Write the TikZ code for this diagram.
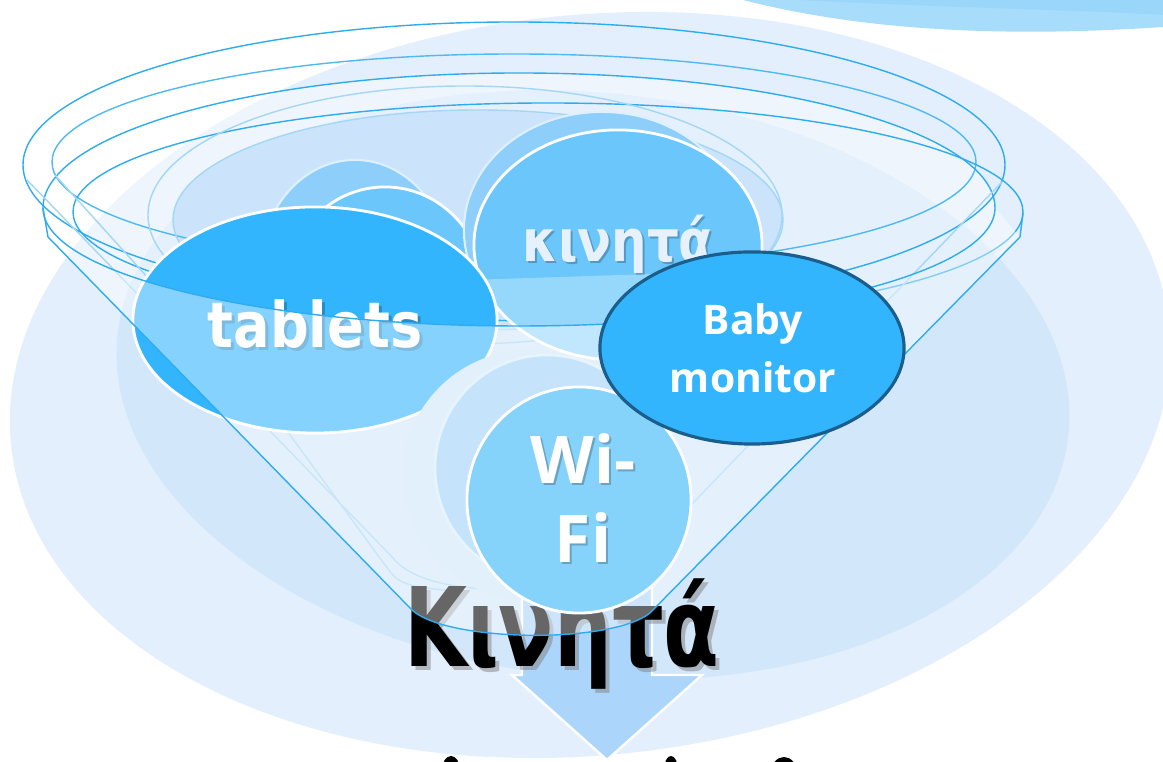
\documentclass[tikz,border=0pt]{standalone}
\usepackage{fontspec}
\usepackage{tikz}
\usetikzlibrary{shapes.geometric}
\newfontfamily\handfont[FakeStretch=0.86]{DejaVu Sans}
\newfontfamily\bighandfont[FakeStretch=0.74]{DejaVu Sans}
\newfontfamily\plainfont{Open Sans}

\definecolor{bgout}{HTML}{E3EFFC}
\definecolor{bgin}{HTML}{D3E7FB}
\definecolor{bowl}{HTML}{CCE4FB}
\definecolor{wavea}{HTML}{A8DCFB}
\definecolor{waveb}{HTML}{9AD6FA}
\definecolor{rimdark}{HTML}{2FACEE}
\definecolor{rimmid}{HTML}{4FB9F1}
\definecolor{rimlight}{HTML}{A3D7F5}
\definecolor{deepblue}{HTML}{33B5FD}
\definecolor{midblue}{HTML}{6AC6FB}
\definecolor{ghostblue}{HTML}{8ECEFB}
\definecolor{paleblue}{HTML}{85D2FB}
\definecolor{mistblue}{HTML}{C5E4FB}
\definecolor{fogblue}{HTML}{CFE6FB}
\definecolor{arrowblue}{HTML}{ABD5FB}
\definecolor{navyline}{HTML}{1B5E8C}
\definecolor{softtext}{HTML}{E6F1FB}

\tikzset{
  bubble/.style = {ellipse, inner sep=0pt, draw=white, line width=0.8pt},
  b_deep/.style = {bubble, fill=deepblue},
  b_mid/.style = {bubble, fill=midblue},
  b_pale/.style = {bubble, fill=paleblue},
  b_ghost/.style = {bubble, fill=ghostblue, draw=white!70!ghostblue, line width=0.6pt},
  b_mist/.style = {bubble, fill=mistblue, draw=white!60!mistblue},
  b_fog/.style = {bubble, fill=fogblue, draw=none},
  b_monitor/.style = {ellipse, inner sep=0pt, fill=deepblue, draw=navyline,
    line width=0.9pt},
  rim/.style = {draw=rimdark, line width=0.4pt},
  rim_mid/.style = {draw=rimmid, line width=0.4pt},
  rim_soft/.style = {draw=rimlight, line width=0.4pt},
  veil/.style = {fill=white, fill opacity=0.4},
  hand/.style = {font=\handfont\bfseries\fontsize{17.9pt}{20pt}\selectfont,
    text=white, inner sep=0pt, anchor=base},% tablets
  hand_s/.style = {font=\handfont\bfseries\fontsize{16.5pt}{19pt}\selectfont,
    text=softtext, inner sep=0pt, anchor=base},% small word in circle
  hand_big/.style = {font=\bighandfont\bfseries\fontsize{31.2pt}{34pt}\selectfont,
    text=black, inner sep=0pt, anchor=base},% title
  plain_m/.style = {font=\plainfont\bfseries\fontsize{11.6pt}{16.5pt}\selectfont,
    text=white, inner sep=0pt, align=center},
  plain_l/.style = {font=\plainfont\bfseries\fontsize{18.7pt}{22.7pt}\selectfont,
    text=white, inner sep=0pt, align=center},
  shade/.style = {text=black, opacity=0.22}
}

\begin{document}
\begin{tikzpicture}[x=0.01cm, y=-0.01cm]
  \useasboundingbox (0,0) rectangle (1163,762);
  \clip (0,0) rectangle (1163,762);
  \fill[white] (0,0) rectangle (1163,762);
  % background
  \fill[bgout, shift={(590,385)}, rotate=6] (0,0) ellipse [x radius=582, y radius=370];
  \fill[bgin, shift={(593,385)}, rotate=-6] (0,0) ellipse [x radius=478, y radius=292];
  \fill[wavea] (743,0) .. controls (860,30) and (1000,38) .. (1163,27) -- (1163,0) -- cycle;
  \fill[waveb] (800,0) .. controls (950,8) and (1080,10) .. (1163,15) -- (1163,0) -- cycle;

  % funnel opening and rims
  \fill[veil] (43,208) arc [start angle=180, end angle=360, x radius=476, y radius=135]
    arc [start angle=0, end angle=180, x radius=476, y radius=118];
  \fill[bowl] (478,220) ellipse [x radius=305, y radius=110];
  \draw[rim] (514,165) ellipse [x radius=491, y radius=143];
  \draw[rim_mid] (514,162) ellipse [x radius=462, y radius=108];
  \draw[rim] (548,212) ellipse [x radius=475, y radius=109];
  \draw[rim] (43,208) arc [start angle=180, end angle=360, x radius=476, y radius=135];
  \draw[rim_soft] (465,215) ellipse [x radius=317, y radius=129];
  \draw[rim_soft] (478,220) ellipse [x radius=305, y radius=110];
  \draw[rim_soft] (27,180) -- (393,558) .. controls (415,585) and (470,590) .. (520,590)
    .. controls (580,590) and (615,582) .. (640,558) -- (1002,182);
  \draw[rim_soft] (55,175) -- (290,435) -- (385,565) .. controls (400,585) .. (460,592);

  % circles behind
  \node[b_ghost, minimum width=1.90cm, minimum height=2.20cm] (ghostA) at (355,270) {};
  \node[b_mid, minimum width=2.00cm, minimum height=2.10cm] (ghostB) at (385,292) {};
  \node[b_ghost, minimum width=2.76cm, minimum height=2.36cm] (ghostC) at (602,230) {};

  \node[b_mid, minimum width=2.88cm, minimum height=2.30cm] (kin) at (618,245) {};
  \node[hand_s, shade] (kintxtsh) at (620,264) {κινητά};
  \node[hand_s] (kintxt) at (618,262) {κινητά};
  \begin{scope}
    \clip (618,245) ellipse [x radius=144, y radius=115];
    \fill[veil, fill opacity=0.3] (470,280) -- (770,270) -- (770,380) -- (470,380) -- cycle;
  \end{scope}

  \node[b_deep, minimum width=3.64cm, minimum height=2.26cm] (tab) at (315,320) {};
  \node[hand, shade] (tabtxtsh) at (318,351) {tablets};
  \node[hand] (tabtxt) at (315,348) {tablets};

  \node[b_fog, minimum width=2.54cm, minimum height=2.50cm] (ghostE) at (530,475) {};

  % arrow and title under the funnel body
  \fill[arrowblue, draw=white, line width=0.7pt] (522,560) -- (652,560) -- (652,675)
    -- (702,675) -- (607,760) -- (512,675) -- (522,675) -- cycle;
  \node[hand_big, text=gray, opacity=0.5] (titlesh) at (566,671) {Κινητά};
  \node[hand_big] (title) at (562,667) {Κινητά};

  % funnel body
  \fill[veil] (43,208) arc [start angle=180, end angle=0, x radius=476, y radius=118]
    -- (1020,237) -- (650,613) .. controls (610,645) and (440,642) .. (410,608)
    -- (48,237) -- cycle;
  \draw[rim] (43,208) arc [start angle=180, end angle=0, x radius=476, y radius=118];
  \draw[rim] (43,208) -- (48,237) -- (410,608) .. controls (440,642) and (610,645)
    .. (650,613) -- (1020,237) -- (1023,213);

  % front circles
  \node[b_mist, minimum width=2.24cm, minimum height=2.26cm] (ghostD) at (547,468) {};
  \node[b_pale, minimum width=2.24cm, minimum height=2.26cm] (wifi) at (579,500) {};
  \node[plain_l, shade] (wifitxtsh) at (585,500) {Wi-\\Fi};
  \node[plain_l] (wifitxt) at (583,498) {Wi-\\Fi};

  \node[b_monitor, minimum width=3.04cm, minimum height=1.92cm] (baby) at (752,348) {};
  \node[plain_m] (babytxt) at (753,348) {Baby\\monitor};

  % tops of the next line
  \fill[black] (451,770) ellipse [x radius=9, y radius=14];
  \fill[black] (671,770) ellipse [x radius=7, y radius=14];
  \fill[black] (784,773) ellipse [x radius=13, y radius=16];
\end{tikzpicture}
\end{document}
